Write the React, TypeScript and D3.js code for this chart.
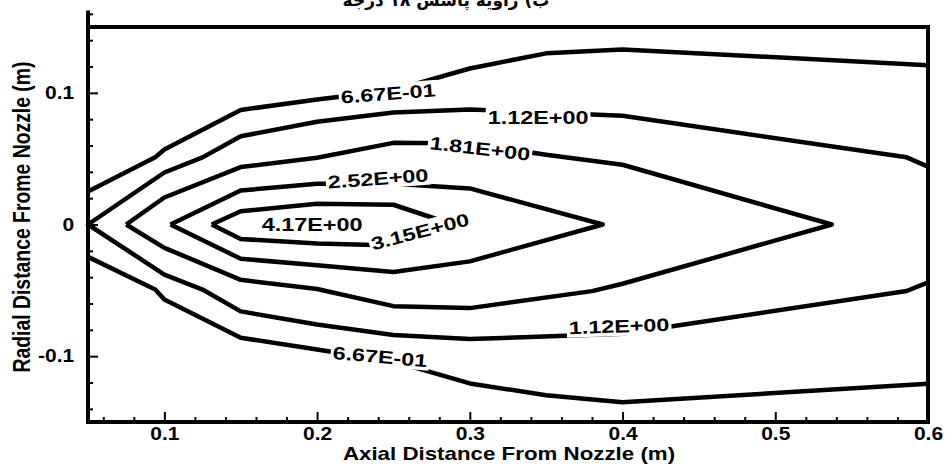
import React, { useEffect, useRef } from 'react';
import * as d3 from 'd3';

// Contour polylines, [axial (m), radial (m)]
const contour067Top: [number, number][] = [
  [0.05, 0.025], [0.094, 0.051], [0.1, 0.057], [0.15, 0.087], [0.2, 0.095],
  [0.25, 0.102], [0.3, 0.1185], [0.35, 0.13], [0.4, 0.133], [0.6, 0.121]
];
const contour067Bottom: [number, number][] = [
  [0.05, -0.0246], [0.094, -0.0494], [0.1, -0.057], [0.15, -0.086], [0.2, -0.095],
  [0.25, -0.104], [0.3, -0.1207], [0.35, -0.1297], [0.4, -0.135], [0.6, -0.121]
];
const contour112: [number, number][] = [
  [0.6, 0.044], [0.586, 0.051], [0.4, 0.0826], [0.3, 0.0874], [0.25, 0.085],
  [0.2, 0.078], [0.15, 0.067], [0.125, 0.051], [0.1, 0.0395], [0.05, 0],
  [0.1, -0.038], [0.125, -0.0494], [0.15, -0.066], [0.2, -0.076], [0.25, -0.084],
  [0.3, -0.087], [0.4, -0.083], [0.586, -0.0505], [0.6, -0.044]
];
const contour181: [number, number][] = [
  [0.075, 0], [0.1, 0.0205], [0.15, 0.0436], [0.2, 0.0507], [0.25, 0.062],
  [0.3, 0.0615], [0.35, 0.053], [0.4, 0.0454], [0.537, 0], [0.4, -0.045],
  [0.38, -0.0506], [0.3, -0.0635], [0.25, -0.062], [0.2, -0.049], [0.15, -0.042],
  [0.1, -0.0177], [0.075, 0]
];
const contour252: [number, number][] = [
  [0.104, 0], [0.15, 0.0258], [0.2, 0.031], [0.25, 0.031], [0.3, 0.0274],
  [0.387, 0], [0.3, -0.028], [0.25, -0.036], [0.2, -0.031], [0.15, -0.026], [0.104, 0]
];
const contour315: [number, number][] = [
  [0.131, 0], [0.15, 0.0101], [0.2, 0.0157], [0.25, 0.015], [0.289, 0],
  [0.25, -0.016], [0.2, -0.0144], [0.15, -0.011], [0.131, 0]
];
const contours = [contour067Top, contour067Bottom, contour112, contour181, contour252, contour315];

// Contour labels: text, position (data units), angle (deg)
const labelText = ["6.67E-01", "1.12E+00", "1.81E+00", "2.52E+00", "4.17E+00", "3.15E+00", "6.67E-01", "1.12E+00"];
const labelX = [0.2465, 0.3447, 0.3067, 0.2399, 0.1967, 0.2674, 0.2412, 0.3977];
const labelY = [0.0995, 0.0813, 0.0578, 0.035, 0.0, -0.0053, -0.1003, -0.0771];
const labelAngle = [-4.3, 0, 6.6, -4.2, 0, -14.7, 5, -2];

// Axis ticks
const xMajorTicks = [0.1, 0.2, 0.3, 0.4, 0.5, 0.6];
const xMinorTicks = [0.06, 0.08, 0.12, 0.14, 0.16, 0.18, 0.22, 0.24, 0.26, 0.28, 0.32, 0.34, 0.36, 0.38,
  0.42, 0.44, 0.46, 0.48, 0.52, 0.54, 0.56, 0.58];
const yMajorTicks = [-0.1, 0, 0.1];
const yTickLabels = ["-0.1", "0", "0.1"];
const yMinorTicks = [-0.14, -0.12, -0.08, -0.06, -0.04, -0.02, 0.02, 0.04, 0.06, 0.08, 0.12, 0.14, 0.16];

const FONT = "'Liberation Sans', Arial, Helvetica, sans-serif";
const W = 947;
const H = 465;

const ContourChart = () => {
  const ref = useRef<SVGSVGElement>(null);

  useEffect(() => {
    const svg = d3.select(ref.current);
    svg.selectAll("*").remove();

    const x = d3.scaleLinear().domain([0.05, 0.6]).range([88, 928]);
    const y = d3.scaleLinear().domain([-0.15, 0.15]).range([422, 27]);

    // Title (cut at the top of the picture, as in the source)
    svg.append("text")
      .attr("x", 446)
      .attr("y", 6)
      .attr("text-anchor", "middle")
      .attr("font-family", "'DejaVu Sans', sans-serif")
      .attr("font-size", 17)
      .attr("font-weight", "bold")
      .attr("fill", "#000")
      .text("ب) زاویه پاشش ۱۸ درجه");

    // Contour lines
    const line = d3.line<[number, number]>()
      .x(d => x(d[0]))
      .y(d => y(d[1]));

    svg.append("g")
      .selectAll("path")
      .data(contours)
      .enter().append("path")
      .attr("d", d => line(d))
      .attr("fill", "none")
      .attr("stroke", "#000")
      .attr("stroke-width", 4.5)
      .attr("stroke-linejoin", "round");

    // Contour labels with a white gap behind
    labelText.forEach((t, i) => {
      const g = svg.append("g")
        .attr("transform", `translate(${x(labelX[i])},${y(labelY[i])}) rotate(${labelAngle[i]})`);
      const rect = g.append("rect").attr("fill", "#fff");
      const txt = g.append("text")
        .attr("transform", "scale(1.3,1)")
        .attr("text-anchor", "middle")
        .attr("dy", "0.36em")
        .attr("font-family", FONT)
        .attr("font-weight", "bold")
        .attr("font-size", 18)
        .attr("fill", "#000")
        .text(t);
      const w = (txt.node() as SVGTextElement).getComputedTextLength() * 1.3;
      rect.attr("x", -w / 2 - 2).attr("y", -10).attr("width", w + 4).attr("height", 20);
    });

    // Axes (ticks point inward)
    const styleAxis = (g: any) => {
      g.select(".domain").remove();
      g.selectAll("line").attr("stroke", "#000").attr("stroke-width", 2);
      g.attr("font-family", FONT).attr("font-size", 17.5).attr("font-weight", "bold");
      g.selectAll("text").attr("fill", "#000");
    };

    svg.append("g")
      .attr("transform", "translate(0,422)")
      .call(d3.axisBottom(x).tickValues(xMinorTicks).tickSize(-5).tickFormat(() => ""))
      .call(styleAxis);
    svg.append("g")
      .attr("transform", "translate(0,422)")
      .call(d3.axisBottom(x).tickValues(xMajorTicks).tickSize(-10).tickPadding(6).tickFormat(d3.format(".1f")))
      .call(styleAxis)
      .selectAll("text").attr("transform", "scale(1.2,1)");

    svg.append("g")
      .attr("transform", "translate(88,0)")
      .call(d3.axisLeft(y).tickValues(yMinorTicks).tickSize(-5).tickFormat(() => ""))
      .call(styleAxis);
    svg.append("g")
      .attr("transform", "translate(88,0)")
      .call(d3.axisLeft(y).tickValues(yMajorTicks).tickSize(-10).tickPadding(11.5)
        .tickFormat((d, i) => yTickLabels[i]))
      .call(styleAxis)
      .selectAll("text").attr("transform", "scale(1.2,1)");

    // Frame
    const frame = [
      [x(0.05), y(0.161), x(0.05), y(-0.15)],
      [x(0.05), y(-0.15), x(0.6), y(-0.15)],
      [x(0.05), y(0.15), x(0.6), y(0.15)],
      [x(0.6), y(0.15), x(0.6), y(-0.15)]
    ];
    svg.append("g")
      .selectAll("line")
      .data(frame)
      .enter().append("line")
      .attr("x1", d => d[0]).attr("y1", d => d[1])
      .attr("x2", d => d[2]).attr("y2", d => d[3])
      .attr("stroke", "#000")
      .attr("stroke-width", 4)
      .attr("stroke-linecap", "square");

    // Axis titles
    svg.append("text")
      .attr("transform", "translate(509,460) scale(1.24,1)")
      .attr("text-anchor", "middle")
      .attr("font-family", FONT)
      .attr("font-weight", "bold")
      .attr("font-size", 18)
      .attr("fill", "#000")
      .text("Axial Distance From Nozzle (m)");

    svg.append("text")
      .attr("transform", "translate(30,217) rotate(-90) scale(1.02,1.25)")
      .attr("text-anchor", "middle")
      .attr("font-family", FONT)
      .attr("font-weight", "bold")
      .attr("font-size", 19)
      .attr("fill", "#000")
      .text("Radial Distance Frome Nozzle (m)");
  }, []);

  return <svg ref={ref} width={W} height={H} style={{ display: 'block', background: '#fff' }} />;
};

export default function App() {
  return (
    <div>
      <style>{`body{margin:0;background:#fff}`}</style>
      <ContourChart />
    </div>
  );
}
